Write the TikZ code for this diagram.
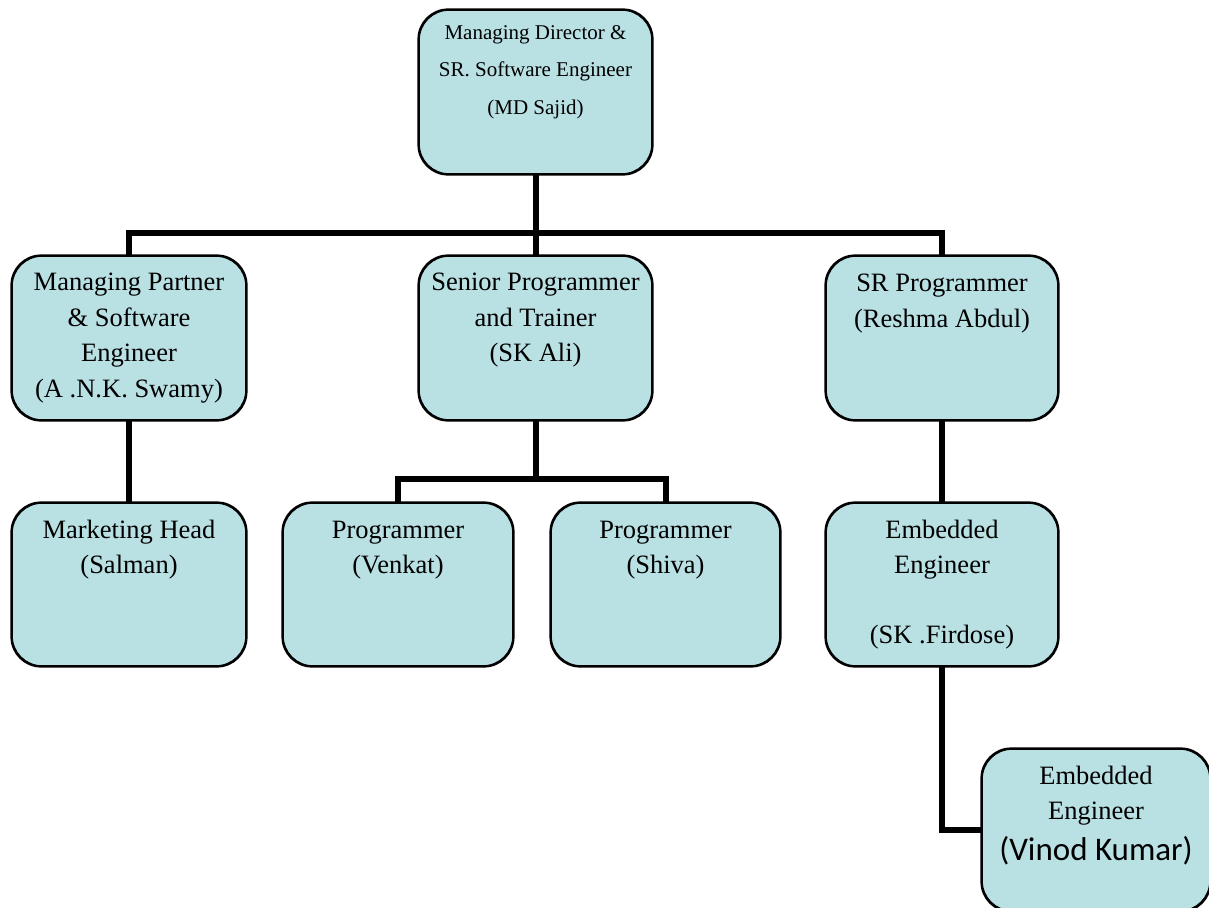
\documentclass[tikz,border=0pt]{standalone}
\usepackage{fontspec}
\setmainfont{Liberation Serif}
\newfontfamily\calibrifont{Carlito}
\definecolor{boxfill}{HTML}{B9E0E3}
\begin{document}
\begin{tikzpicture}[x=1pt,y=-1pt,
  orgbox/.style={draw=black, line width=1.6pt, fill=boxfill, rounded corners=30pt, inner sep=0pt, minimum width=#1},
  orgbox/.default=233pt,
  conn/.style={line width=6pt, line join=miter, draw=black},
  lvltext/.style={anchor=north, inner sep=0pt, align=center, font=\fontsize{26.5}{35.5}\selectfont},
  toptext/.style={anchor=north, inner sep=0pt, align=center, font=\fontsize{21}{37.5}\selectfont}
]
\useasboundingbox (0,0) rectangle (1209,907);
\clip (0,0) rectangle (1209,907);

% boxes
\node[orgbox, minimum height=164pt] (md) at (535.5,92) {};
\node[orgbox=234pt, minimum height=164pt] (mp) at (129,338) {};
\node[orgbox, minimum height=164pt] (sp) at (535.5,338) {};
\node[orgbox=232pt, minimum height=164pt] (srp) at (942,338) {};
\node[orgbox=234pt, minimum height=163pt] (mh) at (129,584.5) {};
\node[orgbox=230pt, minimum height=163pt] (pv) at (398,584.5) {};
\node[orgbox=229pt, minimum height=163pt] (ps) at (665.5,584.5) {};
\node[orgbox=232pt, minimum height=163pt] (ee) at (942,584.5) {};
\node[orgbox=228pt, minimum height=162pt] (ev) at (1096,830) {};

% connectors
\coordinate (bus) at (535.5,233);
\coordinate (sub) at (535.5,479);
\draw[conn] (md.south) -- (sp.north);
\draw[conn] (mp.north) |- (bus) -| (srp.north);
\draw[conn] (mp.south) -- (mh.north);
\draw[conn] (sp.south) -- (sub);
\draw[conn] (pv.north) |- (sub) -| (ps.north);
\draw[conn] (srp.south) -- (ee.north);
\draw[conn] (ee.south) |- (ev.west);

% redraw box outlines over connector ends
\foreach \n in {md,mp,sp,srp,mh,pv,ps,ee,ev}{
  \draw[line width=1.6pt, rounded corners=30pt] (\n.north west) rectangle (\n.south east);
}

% texts
\node[toptext] (tmd) at (535.5,12.7) {\strut Managing Director \&\\SR. Software Engineer\\(MD Sajid)};
\node[lvltext] (tmp) at (129,265.8) {\strut Managing Partner\\\& Software\\Engineer\\(A .N.K. Swamy)};
\node[lvltext] (tsp) at (535.5,265.8) {\strut Senior Programmer\\and Trainer\\(SK Ali)};
\node[lvltext] (tsrp) at (942,266.8) {\strut SR Programmer\\(Reshma Abdul)};
\node[lvltext, font=\fontsize{26.5}{35}\selectfont] (tmh) at (129,513.8) {\strut Marketing Head\\(Salman)};
\node[lvltext, font=\fontsize{26.5}{35}\selectfont] (tpv) at (398,513.8) {\strut Programmer\\(Venkat)};
\node[lvltext, font=\fontsize{26.5}{35}\selectfont] (tps) at (665.5,513.8) {\strut Programmer\\(Shiva)};
\node[lvltext, font=\fontsize{26.5}{35}\selectfont] (tee) at (942,513.8) {\strut Embedded\\Engineer\\\mbox{}\\(SK .Firdose)};
\node[lvltext, font=\fontsize{26.5}{35}\selectfont] (tev) at (1096,759.3) {\strut Embedded\\Engineer};
\node[anchor=base, inner sep=0pt, font=\calibrifont\fontsize{33}{40}\selectfont] (tevn) at (1096,860.6) {(Vinod Kumar)};
\end{tikzpicture}
\end{document}
